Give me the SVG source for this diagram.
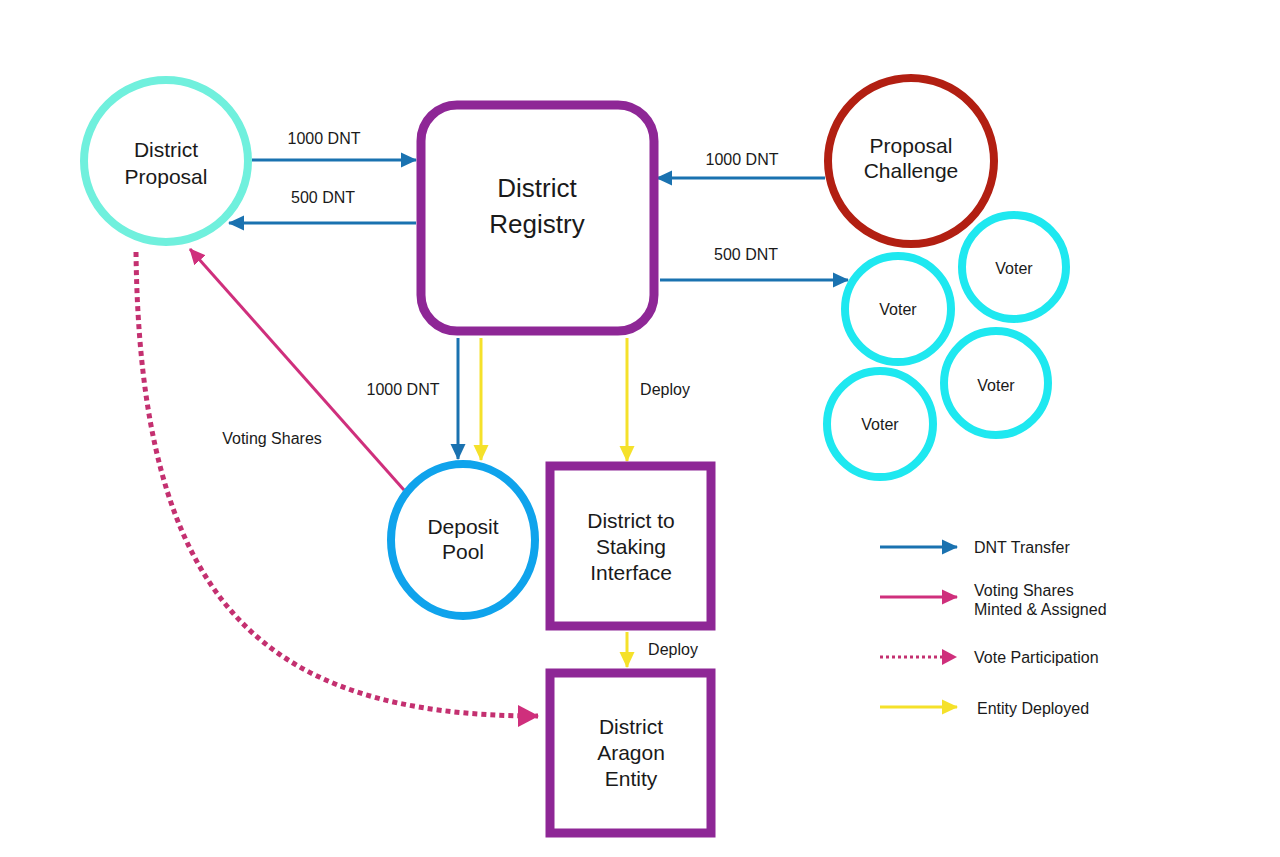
<svg xmlns="http://www.w3.org/2000/svg" width="1280" height="857" viewBox="0 0 1280 857">
<style>
text{font-family:"Liberation Sans",Arial,sans-serif;fill:#1a1a1a;text-anchor:middle}
.lbl{font-size:16px}
.node{font-size:21px}
.lg{text-anchor:start}
.blue{stroke:#1a72b0;stroke-width:3;fill:none}
.yel{stroke:#f5e12a;stroke-width:3;fill:none}
.pink{stroke:#cf2f7c;stroke-width:3;fill:none}
.dot{stroke:#c43070;stroke-width:5;fill:none;stroke-dasharray:5 4}
.voter{fill:#fff;stroke:#1ee8f0;stroke-width:8}
.box{fill:#fff;stroke:#8e2796;stroke-width:9}
</style>
<defs>
<marker id="mb" markerUnits="userSpaceOnUse" markerWidth="17" markerHeight="17" refX="15" refY="8.5" orient="auto"><path d="M0,1 L16,8.5 L0,16 Z" fill="#1a72b0"/></marker>
<marker id="my" markerUnits="userSpaceOnUse" markerWidth="17" markerHeight="17" refX="15" refY="8.5" orient="auto"><path d="M0,1 L16,8.5 L0,16 Z" fill="#f5e12a"/></marker>
<marker id="mp" markerUnits="userSpaceOnUse" markerWidth="17" markerHeight="17" refX="15" refY="8.5" orient="auto"><path d="M0,1 L16,8.5 L0,16 Z" fill="#cf2f7c"/></marker>
<marker id="md" markerUnits="userSpaceOnUse" markerWidth="22" markerHeight="22" refX="20" refY="11" orient="auto"><path d="M0,0 L21,11 L0,22 Z" fill="#cf2f7c"/></marker>
</defs>
<rect width="1280" height="857" fill="#fff"/>

<g id="connectors">
<line class="blue" x1="252" y1="160" x2="416" y2="160" marker-end="url(#mb)"/>
<line class="blue" x1="416" y1="223" x2="229" y2="223" marker-end="url(#mb)"/>
<line class="blue" x1="825" y1="178" x2="657" y2="178" marker-end="url(#mb)"/>
<line class="blue" x1="660" y1="280" x2="848" y2="280" marker-end="url(#mb)"/>
<line class="blue" x1="458" y1="338" x2="458" y2="459" marker-end="url(#mb)"/>
<line class="yel" x1="481" y1="338" x2="481" y2="460" marker-end="url(#my)"/>
<line class="yel" x1="627" y1="338" x2="627" y2="461" marker-end="url(#my)"/>
<line class="yel" x1="627" y1="632" x2="627" y2="667" marker-end="url(#my)"/>
<line class="pink" x1="404" y1="490" x2="190" y2="249" marker-end="url(#mp)"/>
<path class="dot" d="M136,252 C140,600 260,716 538,716" marker-end="url(#md)"/>
<text class="lbl" x="324" y="144">1000 DNT</text>
<text class="lbl" x="323" y="203">500 DNT</text>
<text class="lbl" x="742" y="165">1000 DNT</text>
<text class="lbl" x="746" y="260">500 DNT</text>
<text class="lbl" x="403" y="395">1000 DNT</text>
<text class="lbl" x="665" y="395">Deploy</text>
<text class="lbl" x="272" y="444">Voting Shares</text>
<text class="lbl" x="673" y="655">Deploy</text>
</g>

<g id="district-proposal">
<ellipse cx="166" cy="161" rx="82" ry="81" fill="#fff" stroke="#70f0dd" stroke-width="8"/>
<text class="node" x="166" y="157">District</text>
<text class="node" x="166" y="184">Proposal</text>
</g>

<g id="district-registry">
<rect class="box" x="421" y="105" width="233" height="226" rx="36"/>
<text x="537" y="197" font-size="26">District</text>
<text x="537" y="233" font-size="26">Registry</text>
</g>

<g id="proposal-challenge">
<circle cx="911" cy="161" r="83" fill="#fff" stroke="#b21f12" stroke-width="8"/>
<text class="node" x="911" y="153">Proposal</text>
<text class="node" x="911" y="178">Challenge</text>
</g>

<g id="voter-1"><circle class="voter" cx="898" cy="309" r="53"/><text class="lbl" x="898" y="315">Voter</text></g>
<g id="voter-2"><circle class="voter" cx="1014" cy="267" r="52"/><text class="lbl" x="1014" y="274">Voter</text></g>
<g id="voter-3"><circle class="voter" cx="996" cy="383" r="52"/><text class="lbl" x="996" y="391">Voter</text></g>
<g id="voter-4"><circle class="voter" cx="880" cy="424" r="53"/><text class="lbl" x="880" y="430">Voter</text></g>

<g id="deposit-pool">
<ellipse cx="463" cy="540" rx="72" ry="76" fill="#fff" stroke="#0fa3ec" stroke-width="8"/>
<text class="node" x="463" y="534">Deposit</text>
<text class="node" x="463" y="559">Pool</text>
</g>

<g id="district-staking">
<rect class="box" x="550" y="466" width="161" height="160"/>
<text class="node" x="631" y="528">District to</text>
<text class="node" x="631" y="554">Staking</text>
<text class="node" x="631" y="580">Interface</text>
</g>

<g id="district-aragon">
<rect class="box" x="550" y="673" width="161" height="160"/>
<text class="node" x="631" y="734">District</text>
<text class="node" x="631" y="760">Aragon</text>
<text class="node" x="631" y="786">Entity</text>
</g>

<g id="legend">
<line class="blue" x1="880" y1="547" x2="957" y2="547" marker-end="url(#mb)"/>
<line class="pink" x1="880" y1="597" x2="957" y2="597" marker-end="url(#mp)"/>
<line stroke="#c43070" stroke-width="3" stroke-dasharray="3 3" x1="880" y1="657" x2="945" y2="657"/>
<path d="M942,649 L957,657 L942,665 Z" fill="#cf2f7c"/>
<line class="yel" x1="880" y1="707" x2="957" y2="707" marker-end="url(#my)"/>
<text class="lbl lg" x="974" y="553">DNT Transfer</text>
<text class="lbl lg" x="974" y="596">Voting Shares</text>
<text class="lbl lg" x="974" y="615">Minted &amp; Assigned</text>
<text class="lbl lg" x="974" y="663">Vote Participation</text>
<text class="lbl lg" x="977" y="714">Entity Deployed</text>
</g>
</svg>
